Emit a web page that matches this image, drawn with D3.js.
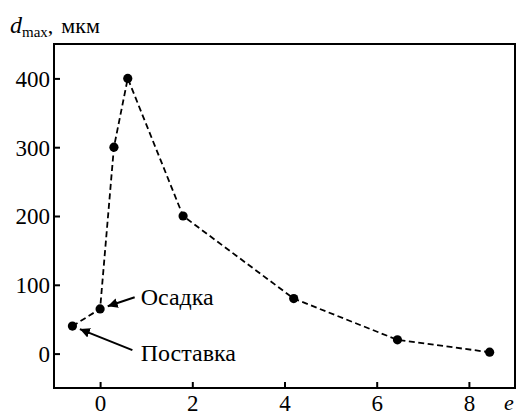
<!DOCTYPE html>
<html>
<head>
<meta charset="utf-8">
<script src="https://cdn.jsdelivr.net/npm/d3@7"></script>
<style>
  body { margin: 0; background: #fff; }
  svg text { font-family: "Liberation Serif", "Times New Roman", Times, "DejaVu Serif", "Noto Serif", serif; fill: #000; }
</style>
</head>
<body>
<svg id="chart"></svg>
<script>
// strain e vs max grain size d_max
const strain = [-0.6, 0, 0.3, 0.6, 1.8, 4.2, 6.45, 8.45];
const dmax = [40, 65, 300, 400, 200, 80, 20, 2];
const xTicks = [0, 2, 4, 6, 8];
const yTicks = [0, 100, 200, 300, 400];
const notes = [
    { label: 'Осадка', at: 1, from: [0.75, 82], text: [0.88, 70] },
    { label: 'Поставка', at: 0, from: [0.7, 5], text: [0.88, -11] }
];

const width = 520, height = 415;
const margin = { top: 44, right: 5, bottom: 27, left: 54 };
const innerW = width - margin.left - margin.right;
const innerH = height - margin.top - margin.bottom;

const svg = d3.select('#chart')
    .attr('width', width)
    .attr('height', height);

const chart = svg.append('g')
    .attr('transform', `translate(${margin.left}, ${margin.top})`);

const xscale = d3.scaleLinear().domain([-1, 9]).range([0, innerW]);
const yscale = d3.scaleLinear().domain([-50, 450]).range([innerH, 0]);

const font = 23;
const serif = '"Liberation Serif", "Times New Roman", Times, "DejaVu Serif", serif';

// x axis, ticks pointing inward
const xaxis = d3.axisBottom(xscale).tickValues(xTicks).tickSize(-6).tickSizeOuter(0).tickPadding(7);
const xg = chart.append('g')
    .attr('transform', `translate(0, ${innerH})`)
    .call(xaxis);

const yaxis = d3.axisLeft(yscale).tickValues(yTicks).tickSize(-6).tickSizeOuter(0).tickPadding(4);
const yg = chart.append('g').call(yaxis);

[xg, yg].forEach(g => {
    g.attr('font-family', serif);
    g.select('.domain').remove();
    g.selectAll('line').attr('stroke', '#000').attr('stroke-width', 2);
    g.selectAll('text')
        .attr('font-size', font)
        .attr('fill', '#000');
});
xg.selectAll('text').attr('dy', '0.68em');
yg.selectAll('text').attr('dy', '0.34em');

// frame
chart.append('rect')
    .attr('x', 0).attr('y', 0)
    .attr('width', innerW).attr('height', innerH)
    .attr('fill', 'none')
    .attr('stroke', '#000')
    .attr('stroke-width', 2);

const pts = strain.map((e, i) => [e, dmax[i]]);

const line = d3.line()
    .x(d => xscale(d[0]))
    .y(d => yscale(d[1]));

chart.append('path')
    .datum(pts)
    .attr('d', line)
    .attr('fill', 'none')
    .attr('stroke', '#000')
    .attr('stroke-width', 1.8)
    .attr('stroke-dasharray', '6,3.5');

chart.selectAll('.dot')
    .data(pts)
    .join('circle')
    .attr('class', 'dot')
    .attr('cx', d => xscale(d[0]))
    .attr('cy', d => yscale(d[1]))
    .attr('r', 4.6)
    .attr('fill', '#000');

// annotation arrows
svg.append('defs').append('marker')
    .attr('id', 'arrow')
    .attr('viewBox', '0 0 10 10')
    .attr('refX', 10).attr('refY', 5)
    .attr('markerWidth', 5).attr('markerHeight', 5)
    .attr('markerUnits', 'strokeWidth')
    .attr('orient', 'auto')
    .append('path')
    .attr('d', 'M0,0 L10,5 L0,10 Z')
    .attr('fill', '#000');

notes.forEach(n => {
    const p = pts[n.at];
    const x1 = xscale(n.from[0]), y1 = yscale(n.from[1]);
    const px = xscale(p[0]), py = yscale(p[1]);
    const dx = px - x1, dy = py - y1, len = Math.hypot(dx, dy);
    const gap = 8;
    chart.append('line')
        .attr('x1', x1).attr('y1', y1)
        .attr('x2', px - dx / len * gap).attr('y2', py - dy / len * gap)
        .attr('stroke', '#000')
        .attr('stroke-width', 2)
        .attr('marker-end', 'url(#arrow)');
    chart.append('text')
        .attr('x', xscale(n.text[0]))
        .attr('y', yscale(n.text[1]))
        .attr('font-size', 24)
        .text(n.label);
});

// axis titles
const yt = svg.append('text').attr('x', 10).attr('y', 33).attr('font-size', 24);
yt.append('tspan').attr('font-style', 'italic').text('d');
yt.append('tspan').attr('font-size', 15).attr('dy', 4).text('max');
yt.append('tspan').attr('dy', -4).attr('font-size', 22).text(',');
yt.append('tspan').attr('dx', 8).attr('font-size', 22).text('мкм');

svg.append('text')
    .attr('x', 504).attr('y', 410)
    .attr('font-size', 22)
    .attr('font-style', 'italic')
    .text('e');
</script>
</body>
</html>
